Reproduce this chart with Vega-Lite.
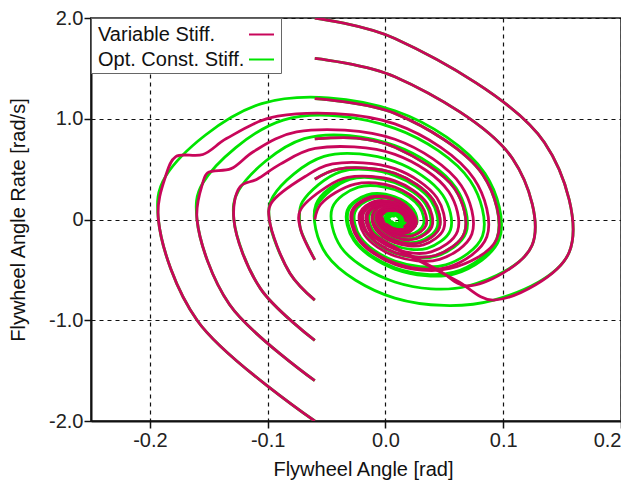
{
"$schema": "https://vega.github.io/schema/vega-lite/v6.json",
"width": 530, "height": 403,
"autosize": "none",
"padding": {"left": 91, "top": 18, "right": 0, "bottom": 61},
"background": "white",
"config": {
  "font": "Liberation Sans",
  "view": {"stroke": "#555", "strokeWidth": 2},
  "axis": {"labelFontSize": 20, "titleFontSize": 20, "titleFontWeight": "normal", "labelColor": "#222", "titleColor": "#111", "domainColor": "#111", "domainWidth": 2, "tickColor": "#111", "tickSize": 7, "tickWidth": 1.5, "gridColor": "#111", "gridDash": [4, 4], "gridWidth": 1.2, "gridOpacity": 1},
  "legend": {"orient": "top-left", "offset": 0, "fillColor": "white", "strokeColor": "#666", "strokeWidth": 1, "padding": 3, "symbolType": "stroke", "symbolSize": 625, "symbolStrokeWidth": 2, "labelFontSize": 20, "labelColor": "#111", "rowPadding": 1, "labelAlign": "left", "labelOffset": -177, "symbolOffset": 154}
},
"data": {"values": [
{"s":"Opt. Const. Stiff.","t":"T20","x":-0.06,"y":2.0},{"s":"Opt. Const. Stiff.","t":"T20","x":0.008,"y":1.796},{"s":"Opt. Const. Stiff.","t":"T20","x":0.135,"y":0.764},{"s":"Opt. Const. Stiff.","t":"T20","x":0.156,"y":-0.325},{"s":"Opt. Const. Stiff.","t":"T20","x":0.092,"y":-0.8},{"s":"Opt. Const. Stiff.","t":"T20","x":0.008,"y":-0.78},{"s":"Opt. Const. Stiff.","t":"T20","x":-0.05,"y":-0.349},{"s":"Opt. Const. Stiff.","t":"T20","x":-0.059,"y":0.148},{"s":"Opt. Const. Stiff.","t":"T20","x":-0.031,"y":0.407},{"s":"Opt. Const. Stiff.","t":"T20","x":0.008,"y":0.374},{"s":"Opt. Const. Stiff.","t":"T20","x":0.034,"y":0.159},{"s":"Opt. Const. Stiff.","t":"T20","x":0.039,"y":-0.068},{"s":"Opt. Const. Stiff.","t":"T20","x":0.026,"y":-0.186},{"s":"Opt. Const. Stiff.","t":"T20","x":0.008,"y":-0.17},{"s":"Opt. Const. Stiff.","t":"T20","x":-0.004,"y":-0.072},{"s":"Opt. Const. Stiff.","t":"T20","x":-0.006,"y":0.031},{"s":"Opt. Const. Stiff.","t":"T20","x":0.0,"y":0.085},{"s":"Opt. Const. Stiff.","t":"T20","x":0.008,"y":0.078},{"s":"Opt. Const. Stiff.","t":"T20","x":0.0135,"y":0.033},{"s":"Opt. Const. Stiff.","t":"T20","x":0.0144,"y":-0.014},{"s":"Opt. Const. Stiff.","t":"T20","x":0.0117,"y":-0.039},{"s":"Opt. Const. Stiff.","t":"T20","x":0.008,"y":-0.035},
{"s":"Opt. Const. Stiff.","t":"T16","x":-0.06,"y":1.6},{"s":"Opt. Const. Stiff.","t":"T16","x":0.008,"y":1.417},{"s":"Opt. Const. Stiff.","t":"T16","x":0.108,"y":0.603},{"s":"Opt. Const. Stiff.","t":"T16","x":0.1245,"y":-0.256},{"s":"Opt. Const. Stiff.","t":"T16","x":0.07,"y":-0.66},{"s":"Opt. Const. Stiff.","t":"T16","x":0.008,"y":-0.62},{"s":"Opt. Const. Stiff.","t":"T16","x":-0.0377,"y":-0.275},{"s":"Opt. Const. Stiff.","t":"T16","x":-0.0451,"y":0.117},{"s":"Opt. Const. Stiff.","t":"T16","x":-0.0229,"y":0.322},{"s":"Opt. Const. Stiff.","t":"T16","x":0.008,"y":0.295},{"s":"Opt. Const. Stiff.","t":"T16","x":0.0289,"y":0.125},{"s":"Opt. Const. Stiff.","t":"T16","x":0.0322,"y":-0.053},{"s":"Opt. Const. Stiff.","t":"T16","x":0.0221,"y":-0.146},{"s":"Opt. Const. Stiff.","t":"T16","x":0.008,"y":-0.135},{"s":"Opt. Const. Stiff.","t":"T16","x":-0.0015,"y":-0.057},{"s":"Opt. Const. Stiff.","t":"T16","x":-0.003,"y":0.024},{"s":"Opt. Const. Stiff.","t":"T16","x":0.0016,"y":0.067},{"s":"Opt. Const. Stiff.","t":"T16","x":0.008,"y":0.062},{"s":"Opt. Const. Stiff.","t":"T16","x":0.0123,"y":0.026},{"s":"Opt. Const. Stiff.","t":"T16","x":0.013,"y":-0.011},{"s":"Opt. Const. Stiff.","t":"T16","x":0.0109,"y":-0.03},
{"s":"Opt. Const. Stiff.","t":"T12","x":-0.06,"y":1.2},{"s":"Opt. Const. Stiff.","t":"T12","x":0.008,"y":1.053},{"s":"Opt. Const. Stiff.","t":"T12","x":0.0825,"y":0.448},{"s":"Opt. Const. Stiff.","t":"T12","x":0.0946,"y":-0.191},{"s":"Opt. Const. Stiff.","t":"T12","x":0.0583,"y":-0.523},{"s":"Opt. Const. Stiff.","t":"T12","x":0.008,"y":-0.479},{"s":"Opt. Const. Stiff.","t":"T12","x":-0.0259,"y":-0.204},{"s":"Opt. Const. Stiff.","t":"T12","x":-0.0315,"y":0.087},{"s":"Opt. Const. Stiff.","t":"T12","x":-0.0149,"y":0.239},{"s":"Opt. Const. Stiff.","t":"T12","x":0.008,"y":0.218},{"s":"Opt. Const. Stiff.","t":"T12","x":0.0235,"y":0.093},{"s":"Opt. Const. Stiff.","t":"T12","x":0.026,"y":-0.04},{"s":"Opt. Const. Stiff.","t":"T12","x":0.0185,"y":-0.109},{"s":"Opt. Const. Stiff.","t":"T12","x":0.008,"y":-0.1},{"s":"Opt. Const. Stiff.","t":"T12","x":0.0009,"y":-0.043},{"s":"Opt. Const. Stiff.","t":"T12","x":-0.0002,"y":0.018},{"s":"Opt. Const. Stiff.","t":"T12","x":0.0033,"y":0.049},{"s":"Opt. Const. Stiff.","t":"T12","x":0.008,"y":0.045},{"s":"Opt. Const. Stiff.","t":"T12","x":0.0113,"y":0.02},{"s":"Opt. Const. Stiff.","t":"T12","x":0.0117,"y":-0.008},
{"s":"Opt. Const. Stiff.","t":"T08","x":-0.06,"y":0.8},{"s":"Opt. Const. Stiff.","t":"T08","x":-0.0246,"y":0.808},{"s":"Opt. Const. Stiff.","t":"T08","x":0.008,"y":0.718},{"s":"Opt. Const. Stiff.","t":"T08","x":0.0588,"y":0.306},{"s":"Opt. Const. Stiff.","t":"T08","x":0.0671,"y":-0.13},{"s":"Opt. Const. Stiff.","t":"T08","x":0.0423,"y":-0.357},{"s":"Opt. Const. Stiff.","t":"T08","x":0.008,"y":-0.328},{"s":"Opt. Const. Stiff.","t":"T08","x":-0.0152,"y":-0.139},{"s":"Opt. Const. Stiff.","t":"T08","x":-0.0189,"y":0.059},{"s":"Opt. Const. Stiff.","t":"T08","x":-0.0076,"y":0.163},{"s":"Opt. Const. Stiff.","t":"T08","x":0.008,"y":0.149},{"s":"Opt. Const. Stiff.","t":"T08","x":0.0185,"y":0.063},{"s":"Opt. Const. Stiff.","t":"T08","x":0.0203,"y":-0.027},{"s":"Opt. Const. Stiff.","t":"T08","x":0.0151,"y":-0.074},{"s":"Opt. Const. Stiff.","t":"T08","x":0.008,"y":-0.068},{"s":"Opt. Const. Stiff.","t":"T08","x":0.0032,"y":-0.029},{"s":"Opt. Const. Stiff.","t":"T08","x":0.0024,"y":0.012},{"s":"Opt. Const. Stiff.","t":"T08","x":0.0047,"y":0.034},{"s":"Opt. Const. Stiff.","t":"T08","x":0.008,"y":0.031},
{"s":"Opt. Const. Stiff.","t":"T04","x":-0.06,"y":0.4},{"s":"Opt. Const. Stiff.","t":"T04","x":-0.0401,"y":0.501},{"s":"Opt. Const. Stiff.","t":"T04","x":0.008,"y":0.459},{"s":"Opt. Const. Stiff.","t":"T04","x":0.0405,"y":0.195},{"s":"Opt. Const. Stiff.","t":"T04","x":0.0457,"y":-0.083},{"s":"Opt. Const. Stiff.","t":"T04","x":0.0299,"y":-0.228},{"s":"Opt. Const. Stiff.","t":"T04","x":0.008,"y":-0.209},{"s":"Opt. Const. Stiff.","t":"T04","x":-0.0068,"y":-0.089},{"s":"Opt. Const. Stiff.","t":"T04","x":-0.0092,"y":0.038},{"s":"Opt. Const. Stiff.","t":"T04","x":-0.002,"y":0.104},{"s":"Opt. Const. Stiff.","t":"T04","x":0.008,"y":0.095},{"s":"Opt. Const. Stiff.","t":"T04","x":0.0147,"y":0.04},{"s":"Opt. Const. Stiff.","t":"T04","x":0.0158,"y":-0.017},{"s":"Opt. Const. Stiff.","t":"T04","x":0.0125,"y":-0.047},{"s":"Opt. Const. Stiff.","t":"T04","x":0.008,"y":-0.044},{"s":"Opt. Const. Stiff.","t":"T04","x":0.0049,"y":-0.019},
{"s":"Opt. Const. Stiff.","t":"Z0","x":-0.06,"y":0.0},{"s":"Opt. Const. Stiff.","t":"Z0","x":-0.0579,"y":0.145},{"s":"Opt. Const. Stiff.","t":"Z0","x":-0.0303,"y":0.399},{"s":"Opt. Const. Stiff.","t":"Z0","x":0.008,"y":0.365},{"s":"Opt. Const. Stiff.","t":"Z0","x":0.0339,"y":0.156},{"s":"Opt. Const. Stiff.","t":"Z0","x":0.038,"y":-0.066},{"s":"Opt. Const. Stiff.","t":"Z0","x":0.0255,"y":-0.182},{"s":"Opt. Const. Stiff.","t":"Z0","x":0.008,"y":-0.167},{"s":"Opt. Const. Stiff.","t":"Z0","x":-0.0038,"y":-0.071},{"s":"Opt. Const. Stiff.","t":"Z0","x":-0.0057,"y":0.03},{"s":"Opt. Const. Stiff.","t":"Z0","x":0.0,"y":0.083},{"s":"Opt. Const. Stiff.","t":"Z0","x":0.008,"y":0.076},{"s":"Opt. Const. Stiff.","t":"Z0","x":0.0134,"y":0.032},{"s":"Opt. Const. Stiff.","t":"Z0","x":0.0142,"y":-0.014},{"s":"Opt. Const. Stiff.","t":"Z0","x":0.0116,"y":-0.038},{"s":"Opt. Const. Stiff.","t":"Z0","x":0.008,"y":-0.034},
{"s":"Opt. Const. Stiff.","t":"B04","x":-0.06,"y":-0.4},{"s":"Opt. Const. Stiff.","t":"B04","x":-0.0721,"y":-0.096},{"s":"Opt. Const. Stiff.","t":"B04","x":-0.073,"y":0.0},{"s":"Opt. Const. Stiff.","t":"B04","x":-0.0706,"y":0.173},{"s":"Opt. Const. Stiff.","t":"B04","x":-0.0377,"y":0.476},{"s":"Opt. Const. Stiff.","t":"B04","x":0.008,"y":0.436},{"s":"Opt. Const. Stiff.","t":"B04","x":0.0388,"y":0.185},{"s":"Opt. Const. Stiff.","t":"B04","x":0.0438,"y":-0.079},{"s":"Opt. Const. Stiff.","t":"B04","x":0.0288,"y":-0.216},{"s":"Opt. Const. Stiff.","t":"B04","x":0.008,"y":-0.199},{"s":"Opt. Const. Stiff.","t":"B04","x":-0.0061,"y":-0.085},{"s":"Opt. Const. Stiff.","t":"B04","x":-0.0083,"y":0.036},{"s":"Opt. Const. Stiff.","t":"B04","x":-0.0015,"y":0.099},{"s":"Opt. Const. Stiff.","t":"B04","x":0.008,"y":0.09},{"s":"Opt. Const. Stiff.","t":"B04","x":0.0144,"y":0.039},{"s":"Opt. Const. Stiff.","t":"B04","x":0.0155,"y":-0.017},{"s":"Opt. Const. Stiff.","t":"B04","x":0.0123,"y":-0.045},{"s":"Opt. Const. Stiff.","t":"B04","x":0.008,"y":-0.041},{"s":"Opt. Const. Stiff.","t":"B04","x":0.0051,"y":-0.017},
{"s":"Opt. Const. Stiff.","t":"B08","x":-0.06,"y":-0.8},{"s":"Opt. Const. Stiff.","t":"B08","x":-0.081,"y":-0.535},{"s":"Opt. Const. Stiff.","t":"B08","x":-0.0986,"y":0.0},{"s":"Opt. Const. Stiff.","t":"B08","x":-0.0955,"y":0.228},{"s":"Opt. Const. Stiff.","t":"B08","x":-0.0521,"y":0.626},{"s":"Opt. Const. Stiff.","t":"B08","x":0.008,"y":0.574},{"s":"Opt. Const. Stiff.","t":"B08","x":0.0486,"y":0.244},{"s":"Opt. Const. Stiff.","t":"B08","x":0.0552,"y":-0.104},{"s":"Opt. Const. Stiff.","t":"B08","x":0.0354,"y":-0.286},{"s":"Opt. Const. Stiff.","t":"B08","x":0.008,"y":-0.261},{"s":"Opt. Const. Stiff.","t":"B08","x":-0.0105,"y":-0.111},{"s":"Opt. Const. Stiff.","t":"B08","x":-0.0135,"y":0.047},{"s":"Opt. Const. Stiff.","t":"B08","x":-0.0045,"y":0.13},{"s":"Opt. Const. Stiff.","t":"B08","x":0.008,"y":0.119},{"s":"Opt. Const. Stiff.","t":"B08","x":0.0164,"y":0.051},{"s":"Opt. Const. Stiff.","t":"B08","x":0.0178,"y":-0.022},{"s":"Opt. Const. Stiff.","t":"B08","x":0.0137,"y":-0.06},{"s":"Opt. Const. Stiff.","t":"B08","x":0.008,"y":-0.054},{"s":"Opt. Const. Stiff.","t":"B08","x":0.0042,"y":-0.023},{"s":"Opt. Const. Stiff.","t":"B08","x":0.0035,"y":0.01},
{"s":"Opt. Const. Stiff.","t":"B12","x":-0.06,"y":-1.2},{"s":"Opt. Const. Stiff.","t":"B12","x":-0.1061,"y":-0.686},{"s":"Opt. Const. Stiff.","t":"B12","x":-0.1287,"y":0.0},{"s":"Opt. Const. Stiff.","t":"B12","x":-0.1245,"y":0.292},{"s":"Opt. Const. Stiff.","t":"B12","x":-0.069,"y":0.802},{"s":"Opt. Const. Stiff.","t":"B12","x":0.008,"y":0.735},{"s":"Opt. Const. Stiff.","t":"B12","x":0.06,"y":0.312},{"s":"Opt. Const. Stiff.","t":"B12","x":0.0684,"y":-0.133},{"s":"Opt. Const. Stiff.","t":"B12","x":0.0431,"y":-0.365},{"s":"Opt. Const. Stiff.","t":"B12","x":0.008,"y":-0.335},{"s":"Opt. Const. Stiff.","t":"B12","x":-0.0157,"y":-0.142},{"s":"Opt. Const. Stiff.","t":"B12","x":-0.0195,"y":0.061},{"s":"Opt. Const. Stiff.","t":"B12","x":-0.008,"y":0.166},{"s":"Opt. Const. Stiff.","t":"B12","x":0.008,"y":0.153},{"s":"Opt. Const. Stiff.","t":"B12","x":0.0188,"y":0.065},{"s":"Opt. Const. Stiff.","t":"B12","x":0.0206,"y":-0.028},{"s":"Opt. Const. Stiff.","t":"B12","x":0.0153,"y":-0.076},{"s":"Opt. Const. Stiff.","t":"B12","x":0.008,"y":-0.07},{"s":"Opt. Const. Stiff.","t":"B12","x":0.0031,"y":-0.03},{"s":"Opt. Const. Stiff.","t":"B12","x":0.0023,"y":0.013},{"s":"Opt. Const. Stiff.","t":"B12","x":0.0047,"y":0.035},
{"s":"Opt. Const. Stiff.","t":"B16","x":-0.06,"y":-1.6},{"s":"Opt. Const. Stiff.","t":"B16","x":-0.1324,"y":-0.844},{"s":"Opt. Const. Stiff.","t":"B16","x":-0.16,"y":0.0},{"s":"Opt. Const. Stiff.","t":"B16","x":-0.1552,"y":0.359},{"s":"Opt. Const. Stiff.","t":"B16","x":-0.0868,"y":0.987},{"s":"Opt. Const. Stiff.","t":"B16","x":0.008,"y":0.905},{"s":"Opt. Const. Stiff.","t":"B16","x":0.072,"y":0.385},{"s":"Opt. Const. Stiff.","t":"B16","x":0.0824,"y":-0.164},{"s":"Opt. Const. Stiff.","t":"B16","x":0.0512,"y":-0.45},{"s":"Opt. Const. Stiff.","t":"B16","x":0.008,"y":-0.412},{"s":"Opt. Const. Stiff.","t":"B16","x":-0.0212,"y":-0.176},{"s":"Opt. Const. Stiff.","t":"B16","x":-0.0259,"y":0.075},{"s":"Opt. Const. Stiff.","t":"B16","x":-0.0117,"y":0.205},{"s":"Opt. Const. Stiff.","t":"B16","x":0.008,"y":0.188},{"s":"Opt. Const. Stiff.","t":"B16","x":0.0213,"y":0.08},{"s":"Opt. Const. Stiff.","t":"B16","x":0.0235,"y":-0.034},{"s":"Opt. Const. Stiff.","t":"B16","x":0.017,"y":-0.093},{"s":"Opt. Const. Stiff.","t":"B16","x":0.008,"y":-0.085},{"s":"Opt. Const. Stiff.","t":"B16","x":0.0019,"y":-0.037},{"s":"Opt. Const. Stiff.","t":"B16","x":0.0009,"y":0.016},{"s":"Opt. Const. Stiff.","t":"B16","x":0.0039,"y":0.043},{"s":"Opt. Const. Stiff.","t":"B16","x":0.008,"y":0.039},
{"s":"Opt. Const. Stiff.","t":"B20","x":-0.06,"y":-2.0},{"s":"Opt. Const. Stiff.","t":"B20","x":-0.1595,"y":-1.007},{"s":"Opt. Const. Stiff.","t":"B20","x":-0.1928,"y":0.0},{"s":"Opt. Const. Stiff.","t":"B20","x":-0.1867,"y":0.428},{"s":"Opt. Const. Stiff.","t":"B20","x":-0.1051,"y":1.15},{"s":"Opt. Const. Stiff.","t":"B20","x":0.008,"y":1.079},{"s":"Opt. Const. Stiff.","t":"B20","x":0.0844,"y":0.459},{"s":"Opt. Const. Stiff.","t":"B20","x":0.0967,"y":-0.195},{"s":"Opt. Const. Stiff.","t":"B20","x":0.0595,"y":-0.537},{"s":"Opt. Const. Stiff.","t":"B20","x":0.008,"y":-0.492},{"s":"Opt. Const. Stiff.","t":"B20","x":-0.0268,"y":-0.209},{"s":"Opt. Const. Stiff.","t":"B20","x":-0.0325,"y":0.089},{"s":"Opt. Const. Stiff.","t":"B20","x":-0.0155,"y":0.244},{"s":"Opt. Const. Stiff.","t":"B20","x":0.008,"y":0.224},{"s":"Opt. Const. Stiff.","t":"B20","x":0.0239,"y":0.096},{"s":"Opt. Const. Stiff.","t":"B20","x":0.0265,"y":-0.041},{"s":"Opt. Const. Stiff.","t":"B20","x":0.0187,"y":-0.112},{"s":"Opt. Const. Stiff.","t":"B20","x":0.008,"y":-0.103},{"s":"Opt. Const. Stiff.","t":"B20","x":0.0008,"y":-0.043},{"s":"Opt. Const. Stiff.","t":"B20","x":-0.0004,"y":0.018},{"s":"Opt. Const. Stiff.","t":"B20","x":0.0031,"y":0.051},{"s":"Opt. Const. Stiff.","t":"B20","x":0.008,"y":0.047},{"s":"Opt. Const. Stiff.","t":"B20","x":0.0113,"y":0.02},
{"s":"Variable Stiff.","t":"T20","x":-0.06,"y":2.0},{"s":"Variable Stiff.","t":"T20","x":0.008,"y":1.796},{"s":"Variable Stiff.","t":"T20","x":0.135,"y":0.764},{"s":"Variable Stiff.","t":"T20","x":0.156,"y":-0.325},{"s":"Variable Stiff.","t":"T20","x":0.092,"y":-0.8},{"s":"Variable Stiff.","t":"T20","x":0.061,"y":-0.61},{"s":"Variable Stiff.","t":"T20","x":0.03,"y":-0.42},{"s":"Variable Stiff.","t":"T20","x":0.0,"y":-0.235},{"s":"Variable Stiff.","t":"T20","x":-0.0167,"y":-0.119},{"s":"Variable Stiff.","t":"T20","x":-0.0208,"y":0.063},{"s":"Variable Stiff.","t":"T20","x":-0.0088,"y":0.174},{"s":"Variable Stiff.","t":"T20","x":0.008,"y":0.16},{"s":"Variable Stiff.","t":"T20","x":0.0207,"y":0.076},{"s":"Variable Stiff.","t":"T20","x":0.0245,"y":-0.036},{"s":"Variable Stiff.","t":"T20","x":0.0187,"y":-0.112},{"s":"Variable Stiff.","t":"T20","x":0.008,"y":-0.115},{"s":"Variable Stiff.","t":"T20","x":-0.0011,"y":-0.055},{"s":"Variable Stiff.","t":"T20","x":-0.0038,"y":0.026},{"s":"Variable Stiff.","t":"T20","x":0.0003,"y":0.08},
{"s":"Variable Stiff.","t":"T16","x":-0.06,"y":1.6},{"s":"Variable Stiff.","t":"T16","x":0.008,"y":1.417},{"s":"Variable Stiff.","t":"T16","x":0.108,"y":0.603},{"s":"Variable Stiff.","t":"T16","x":0.1245,"y":-0.256},{"s":"Variable Stiff.","t":"T16","x":0.07,"y":-0.66},{"s":"Variable Stiff.","t":"T16","x":0.046,"y":-0.51},{"s":"Variable Stiff.","t":"T16","x":0.022,"y":-0.36},{"s":"Variable Stiff.","t":"T16","x":-0.002,"y":-0.21},{"s":"Variable Stiff.","t":"T16","x":-0.0118,"y":-0.119},{"s":"Variable Stiff.","t":"T16","x":-0.015,"y":0.051},{"s":"Variable Stiff.","t":"T16","x":-0.0054,"y":0.139},{"s":"Variable Stiff.","t":"T16","x":0.008,"y":0.143},{"s":"Variable Stiff.","t":"T16","x":0.0193,"y":0.068},{"s":"Variable Stiff.","t":"T16","x":0.0227,"y":-0.032},{"s":"Variable Stiff.","t":"T16","x":0.0175,"y":-0.099},{"s":"Variable Stiff.","t":"T16","x":0.008,"y":-0.102},{"s":"Variable Stiff.","t":"T16","x":-0.0001,"y":-0.048},
{"s":"Variable Stiff.","t":"T12","x":-0.06,"y":1.2},{"s":"Variable Stiff.","t":"T12","x":0.008,"y":1.053},{"s":"Variable Stiff.","t":"T12","x":0.0825,"y":0.448},{"s":"Variable Stiff.","t":"T12","x":0.0946,"y":-0.191},{"s":"Variable Stiff.","t":"T12","x":0.0548,"y":-0.486},{"s":"Variable Stiff.","t":"T12","x":0.008,"y":-0.445},{"s":"Variable Stiff.","t":"T12","x":-0.0235,"y":-0.19},{"s":"Variable Stiff.","t":"T12","x":-0.0287,"y":0.081},{"s":"Variable Stiff.","t":"T12","x":-0.0133,"y":0.222},{"s":"Variable Stiff.","t":"T12","x":0.008,"y":0.203},{"s":"Variable Stiff.","t":"T12","x":0.0213,"y":0.086},{"s":"Variable Stiff.","t":"T12","x":0.026,"y":-0.041},{"s":"Variable Stiff.","t":"T12","x":0.0196,"y":-0.126},{"s":"Variable Stiff.","t":"T12","x":0.008,"y":-0.13},{"s":"Variable Stiff.","t":"T12","x":-0.0023,"y":-0.062},{"s":"Variable Stiff.","t":"T12","x":-0.0054,"y":0.03},{"s":"Variable Stiff.","t":"T12","x":-0.0007,"y":0.091},{"s":"Variable Stiff.","t":"T12","x":0.008,"y":0.093},{"s":"Variable Stiff.","t":"T12","x":0.0153,"y":0.045},{"s":"Variable Stiff.","t":"T12","x":0.0176,"y":-0.021},
{"s":"Variable Stiff.","t":"T08","x":-0.06,"y":0.8},{"s":"Variable Stiff.","t":"T08","x":-0.0246,"y":0.808},{"s":"Variable Stiff.","t":"T08","x":0.008,"y":0.718},{"s":"Variable Stiff.","t":"T08","x":0.0588,"y":0.306},{"s":"Variable Stiff.","t":"T08","x":0.0671,"y":-0.13},{"s":"Variable Stiff.","t":"T08","x":0.0423,"y":-0.357},{"s":"Variable Stiff.","t":"T08","x":0.008,"y":-0.328},{"s":"Variable Stiff.","t":"T08","x":-0.0152,"y":-0.139},{"s":"Variable Stiff.","t":"T08","x":-0.0189,"y":0.059},{"s":"Variable Stiff.","t":"T08","x":-0.0076,"y":0.163},{"s":"Variable Stiff.","t":"T08","x":0.008,"y":0.167},{"s":"Variable Stiff.","t":"T08","x":0.0212,"y":0.079},{"s":"Variable Stiff.","t":"T08","x":0.0252,"y":-0.038},{"s":"Variable Stiff.","t":"T08","x":0.0192,"y":-0.116},{"s":"Variable Stiff.","t":"T08","x":0.008,"y":-0.12},{"s":"Variable Stiff.","t":"T08","x":-0.0015,"y":-0.057},{"s":"Variable Stiff.","t":"T08","x":-0.0043,"y":0.027},{"s":"Variable Stiff.","t":"T08","x":0.0,"y":0.083},{"s":"Variable Stiff.","t":"T08","x":0.008,"y":0.085},
{"s":"Variable Stiff.","t":"T04","x":-0.06,"y":0.4},{"s":"Variable Stiff.","t":"T04","x":-0.0401,"y":0.501},{"s":"Variable Stiff.","t":"T04","x":0.008,"y":0.459},{"s":"Variable Stiff.","t":"T04","x":0.0405,"y":0.195},{"s":"Variable Stiff.","t":"T04","x":0.0457,"y":-0.083},{"s":"Variable Stiff.","t":"T04","x":0.0299,"y":-0.228},{"s":"Variable Stiff.","t":"T04","x":0.008,"y":-0.209},{"s":"Variable Stiff.","t":"T04","x":-0.0068,"y":-0.089},{"s":"Variable Stiff.","t":"T04","x":-0.0112,"y":0.042},{"s":"Variable Stiff.","t":"T04","x":-0.0045,"y":0.13},{"s":"Variable Stiff.","t":"T04","x":0.008,"y":0.134},{"s":"Variable Stiff.","t":"T04","x":0.0186,"y":0.064},{"s":"Variable Stiff.","t":"T04","x":0.0218,"y":-0.03},{"s":"Variable Stiff.","t":"T04","x":0.017,"y":-0.093},{"s":"Variable Stiff.","t":"T04","x":0.008,"y":-0.096},{"s":"Variable Stiff.","t":"T04","x":0.0004,"y":-0.046},
{"s":"Variable Stiff.","t":"Z0","x":-0.06,"y":0.0},{"s":"Variable Stiff.","t":"Z0","x":-0.055,"y":0.15},{"s":"Variable Stiff.","t":"Z0","x":-0.0257,"y":0.351},{"s":"Variable Stiff.","t":"Z0","x":0.008,"y":0.322},{"s":"Variable Stiff.","t":"Z0","x":0.0308,"y":0.137},{"s":"Variable Stiff.","t":"Z0","x":0.0345,"y":-0.058},{"s":"Variable Stiff.","t":"Z0","x":0.0234,"y":-0.16},{"s":"Variable Stiff.","t":"Z0","x":0.008,"y":-0.147},{"s":"Variable Stiff.","t":"Z0","x":-0.0037,"y":-0.07},{"s":"Variable Stiff.","t":"Z0","x":-0.0072,"y":0.033},{"s":"Variable Stiff.","t":"Z0","x":-0.0019,"y":0.103},{"s":"Variable Stiff.","t":"Z0","x":0.008,"y":0.106},{"s":"Variable Stiff.","t":"Z0","x":0.0163,"y":0.05},{"s":"Variable Stiff.","t":"Z0","x":0.0189,"y":-0.024},
{"s":"Variable Stiff.","t":"B04","x":-0.06,"y":-0.4},{"s":"Variable Stiff.","t":"B04","x":-0.0721,"y":-0.096},{"s":"Variable Stiff.","t":"B04","x":-0.0726,"y":0.084},{"s":"Variable Stiff.","t":"B04","x":-0.0499,"y":0.324},{"s":"Variable Stiff.","t":"B04","x":-0.0322,"y":0.418},{"s":"Variable Stiff.","t":"B04","x":0.008,"y":0.383},{"s":"Variable Stiff.","t":"B04","x":0.0352,"y":0.163},{"s":"Variable Stiff.","t":"B04","x":0.0395,"y":-0.069},{"s":"Variable Stiff.","t":"B04","x":0.0263,"y":-0.191},{"s":"Variable Stiff.","t":"B04","x":0.008,"y":-0.175},{"s":"Variable Stiff.","t":"B04","x":-0.0044,"y":-0.074},{"s":"Variable Stiff.","t":"B04","x":-0.0081,"y":0.035},{"s":"Variable Stiff.","t":"B04","x":-0.0025,"y":0.109},{"s":"Variable Stiff.","t":"B04","x":0.008,"y":0.112},{"s":"Variable Stiff.","t":"B04","x":0.0168,"y":0.053},{"s":"Variable Stiff.","t":"B04","x":0.0195,"y":-0.025},{"s":"Variable Stiff.","t":"B04","x":0.0155,"y":-0.078},
{"s":"Variable Stiff.","t":"B08","x":-0.06,"y":-0.8},{"s":"Variable Stiff.","t":"B08","x":-0.081,"y":-0.535},{"s":"Variable Stiff.","t":"B08","x":-0.0986,"y":0.0},{"s":"Variable Stiff.","t":"B08","x":-0.0973,"y":0.156},{"s":"Variable Stiff.","t":"B08","x":-0.0682,"y":0.427},{"s":"Variable Stiff.","t":"B08","x":-0.0449,"y":0.551},{"s":"Variable Stiff.","t":"B08","x":0.008,"y":0.505},{"s":"Variable Stiff.","t":"B08","x":0.0437,"y":0.215},{"s":"Variable Stiff.","t":"B08","x":0.0495,"y":-0.091},{"s":"Variable Stiff.","t":"B08","x":0.0321,"y":-0.251},{"s":"Variable Stiff.","t":"B08","x":0.008,"y":-0.23},{"s":"Variable Stiff.","t":"B08","x":-0.0083,"y":-0.098},{"s":"Variable Stiff.","t":"B08","x":-0.0109,"y":0.042},{"s":"Variable Stiff.","t":"B08","x":-0.0043,"y":0.128},{"s":"Variable Stiff.","t":"B08","x":0.008,"y":0.131},{"s":"Variable Stiff.","t":"B08","x":0.0184,"y":0.062},{"s":"Variable Stiff.","t":"B08","x":0.0215,"y":-0.03},{"s":"Variable Stiff.","t":"B08","x":0.0168,"y":-0.091},{"s":"Variable Stiff.","t":"B08","x":0.008,"y":-0.094},{"s":"Variable Stiff.","t":"B08","x":0.0006,"y":-0.045},
{"s":"Variable Stiff.","t":"B12","x":-0.06,"y":-1.2},{"s":"Variable Stiff.","t":"B12","x":-0.1061,"y":-0.686},{"s":"Variable Stiff.","t":"B12","x":-0.1287,"y":0.0},{"s":"Variable Stiff.","t":"B12","x":-0.1233,"y":0.327},{"s":"Variable Stiff.","t":"B12","x":-0.109,"y":0.4},{"s":"Variable Stiff.","t":"B12","x":-0.0897,"y":0.547},{"s":"Variable Stiff.","t":"B12","x":-0.0597,"y":0.705},{"s":"Variable Stiff.","t":"B12","x":0.008,"y":0.647},{"s":"Variable Stiff.","t":"B12","x":0.0538,"y":0.275},{"s":"Variable Stiff.","t":"B12","x":0.0612,"y":-0.117},{"s":"Variable Stiff.","t":"B12","x":0.0389,"y":-0.322},{"s":"Variable Stiff.","t":"B12","x":0.008,"y":-0.295},{"s":"Variable Stiff.","t":"B12","x":-0.0129,"y":-0.125},{"s":"Variable Stiff.","t":"B12","x":-0.0162,"y":0.053},{"s":"Variable Stiff.","t":"B12","x":-0.0061,"y":0.146},{"s":"Variable Stiff.","t":"B12","x":0.008,"y":0.15},{"s":"Variable Stiff.","t":"B12","x":0.0199,"y":0.071},{"s":"Variable Stiff.","t":"B12","x":0.0235,"y":-0.034},{"s":"Variable Stiff.","t":"B12","x":0.0181,"y":-0.105},{"s":"Variable Stiff.","t":"B12","x":0.008,"y":-0.108},{"s":"Variable Stiff.","t":"B12","x":-0.0006,"y":-0.051},{"s":"Variable Stiff.","t":"B12","x":-0.0031,"y":0.024},
{"s":"Variable Stiff.","t":"B16","x":-0.06,"y":-1.6},{"s":"Variable Stiff.","t":"B16","x":-0.1324,"y":-0.844},{"s":"Variable Stiff.","t":"B16","x":-0.16,"y":0.0},{"s":"Variable Stiff.","t":"B16","x":-0.1552,"y":0.359},{"s":"Variable Stiff.","t":"B16","x":-0.151,"y":0.464},{"s":"Variable Stiff.","t":"B16","x":-0.131,"y":0.505},{"s":"Variable Stiff.","t":"B16","x":-0.1122,"y":0.673},{"s":"Variable Stiff.","t":"B16","x":-0.0754,"y":0.869},{"s":"Variable Stiff.","t":"B16","x":0.008,"y":0.796},{"s":"Variable Stiff.","t":"B16","x":0.0643,"y":0.338},{"s":"Variable Stiff.","t":"B16","x":0.0734,"y":-0.144},{"s":"Variable Stiff.","t":"B16","x":0.046,"y":-0.395},{"s":"Variable Stiff.","t":"B16","x":0.008,"y":-0.362},{"s":"Variable Stiff.","t":"B16","x":-0.0177,"y":-0.154},{"s":"Variable Stiff.","t":"B16","x":-0.0218,"y":0.066},{"s":"Variable Stiff.","t":"B16","x":-0.0093,"y":0.18},{"s":"Variable Stiff.","t":"B16","x":0.008,"y":0.165},{"s":"Variable Stiff.","t":"B16","x":0.0197,"y":0.07},{"s":"Variable Stiff.","t":"B16","x":0.0232,"y":-0.033},{"s":"Variable Stiff.","t":"B16","x":0.0179,"y":-0.103},{"s":"Variable Stiff.","t":"B16","x":0.008,"y":-0.106},{"s":"Variable Stiff.","t":"B16","x":-0.0003,"y":-0.05},{"s":"Variable Stiff.","t":"B16","x":-0.0029,"y":0.024},
{"s":"Variable Stiff.","t":"B20","x":-0.06,"y":-2.0},{"s":"Variable Stiff.","t":"B20","x":-0.1595,"y":-1.007},{"s":"Variable Stiff.","t":"B20","x":-0.1928,"y":0.0},{"s":"Variable Stiff.","t":"B20","x":-0.1867,"y":0.428},{"s":"Variable Stiff.","t":"B20","x":-0.178,"y":0.624},{"s":"Variable Stiff.","t":"B20","x":-0.155,"y":0.645},{"s":"Variable Stiff.","t":"B20","x":-0.135,"y":0.803},{"s":"Variable Stiff.","t":"B20","x":-0.0915,"y":1.025},{"s":"Variable Stiff.","t":"B20","x":0.008,"y":0.949},{"s":"Variable Stiff.","t":"B20","x":0.0752,"y":0.404},{"s":"Variable Stiff.","t":"B20","x":0.0861,"y":-0.172},{"s":"Variable Stiff.","t":"B20","x":0.0534,"y":-0.472},{"s":"Variable Stiff.","t":"B20","x":0.008,"y":-0.433},{"s":"Variable Stiff.","t":"B20","x":-0.0226,"y":-0.184},{"s":"Variable Stiff.","t":"B20","x":-0.0276,"y":0.078},{"s":"Variable Stiff.","t":"B20","x":-0.0126,"y":0.215},{"s":"Variable Stiff.","t":"B20","x":0.008,"y":0.197},{"s":"Variable Stiff.","t":"B20","x":0.0219,"y":0.084},{"s":"Variable Stiff.","t":"B20","x":0.0261,"y":-0.04},{"s":"Variable Stiff.","t":"B20","x":0.0198,"y":-0.123},{"s":"Variable Stiff.","t":"B20","x":0.008,"y":-0.126},{"s":"Variable Stiff.","t":"B20","x":-0.002,"y":-0.06},{"s":"Variable Stiff.","t":"B20","x":-0.005,"y":0.029},{"s":"Variable Stiff.","t":"B20","x":-0.0004,"y":0.088},{"s":"Variable Stiff.","t":"B20","x":0.008,"y":0.09}
]},
"encoding": {
  "x": {"field": "x", "type": "quantitative", "scale": {"domain": [-0.25, 0.2], "nice": false, "zero": false},
        "axis": {"values": [-0.2, -0.1, 0, 0.1, 0.2], "labelExpr": "datum.value == 0 ? '0.0' : (datum.value < 0 ? '-' + format(-datum.value, '.1f') : format(datum.value, '.1f'))", "labelFlush": true, "labelPadding": 2, "title": "Flywheel Angle [rad]", "titleX": 272, "titleY": 54, "titleBaseline": "alphabetic"}},
  "y": {"field": "y", "type": "quantitative", "scale": {"domain": [-2, 2], "nice": false, "zero": false},
        "axis": {"values": [-2, -1, 0, 1, 2], "labelExpr": "datum.value == 0 ? '0' : (datum.value < 0 ? '-' + format(-datum.value, '.1f') : format(datum.value, '.1f'))", "labelPadding": 1, "title": "Flywheel Angle Rate [rad/s]", "titleX": -73, "titleY": 201.5, "titleBaseline": "middle", "titleAlign": "center"}},
  "color": {"field": "s", "type": "nominal", "scale": {"domain": ["Variable Stiff.", "Opt. Const. Stiff."], "range": ["#C8065A", "#00E400"]}, "legend": {"title": null}},
  "detail": {"field": "t"},
  "order": {"value": null}
},
"layer": [
  {"transform": [{"filter": "datum.s == 'Opt. Const. Stiff.'"}], "mark": {"type": "line", "interpolate": "catmull-rom", "strokeWidth": 2.8, "clip": true}},
  {"transform": [{"filter": "datum.s == 'Variable Stiff.'"}], "mark": {"type": "line", "interpolate": "catmull-rom", "strokeWidth": 2.8, "clip": true}}
]
}
